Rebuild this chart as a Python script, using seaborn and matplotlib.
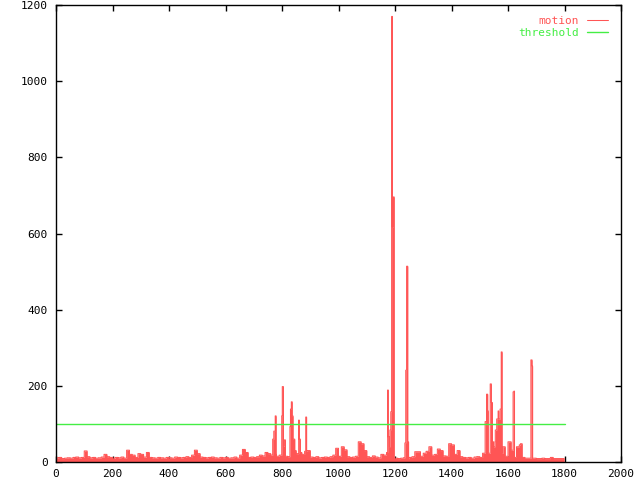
import numpy as np
import pandas as pd
import matplotlib
matplotlib.use("Agg")
import matplotlib.pyplot as plt
import seaborn as sns

# ---- data ----
# baseline motion, one value per 10-frame block (frames 0..1790)
base_motion = [
    11, 12, 9, 10, 11, 10, 12, 13, 11, 12,
    29, 14, 11, 12, 10, 11, 13, 20, 14, 12,
    10, 12, 11, 13, 10, 31, 20, 18, 12, 22,
    20, 13, 25, 12, 11, 10, 12, 11, 10, 12,
    11, 10, 13, 12, 11, 12, 14, 12, 18, 31,
    22, 13, 12, 11, 12, 13, 11, 10, 12, 11,
    12, 10, 11, 13, 10, 18, 33, 25, 12, 13,
    12, 14, 18, 16, 25, 22, 18, 20, 15, 18,
    12, 15, 14, 12, 28, 22, 25, 20, 28, 30,
    13, 12, 14, 11, 12, 13, 12, 14, 18, 36,
    15, 40, 32, 14, 12, 13, 15, 53, 48, 30,
    14, 12, 16, 13, 11, 20, 18, 25, 30, 10,
    10, 9, 10, 11, 9, 12, 14, 27, 27, 15,
    23, 28, 40, 18, 20, 34, 30, 16, 15, 48,
    45, 20, 30, 14, 12, 11, 12, 10, 13, 14,
    12, 23, 23, 23, 40, 53, 40, 30, 40, 15,
    53, 31, 12, 40, 48, 12, 10, 10, 10, 10,
    9, 9, 10, 9, 9, 12, 9, 9, 9, 9,
]
block_size = 10

# spikes: start frame, end frame (exclusive), value
spike_start = [767, 771, 776, 799, 801, 805, 808, 828, 830, 833, 836, 839, 845,
               859, 861, 884,
               1174, 1176, 1180, 1182, 1185, 1188, 1191, 1194,
               1235, 1238, 1241, 1245,
               1519, 1524, 1528, 1537, 1541, 1545, 1549, 1555, 1560, 1565, 1567,
               1572, 1576, 1579, 1582,
               1608, 1611, 1618, 1621, 1636, 1640, 1644, 1681, 1685]
spike_end = [771, 776, 779, 801, 805, 808, 812, 830, 833, 836, 839, 845, 850,
             861, 865, 887,
             1176, 1180, 1182, 1185, 1188, 1191, 1194, 1197,
             1238, 1241, 1245, 1248,
             1524, 1528, 1530, 1541, 1545, 1549, 1554, 1560, 1565, 1567, 1572,
             1576, 1579, 1582, 1585,
             1611, 1615, 1621, 1623, 1640, 1644, 1648, 1685, 1687]
spike_value = [60, 81, 121, 121, 198, 42, 58, 93, 139, 158, 121, 60, 30,
               110, 60, 118,
               189, 66, 40, 84, 132, 1170, 617, 696,
               50, 241, 514, 53,
               106, 178, 134, 205, 156, 53, 40, 84, 113, 134, 113,
               139, 289, 23, 40,
               53, 31, 184, 186, 40, 45, 48, 268, 252]

threshold = 100
n_frames = 1800

x_ticks = [0, 200, 400, 600, 800, 1000, 1200, 1400, 1600, 1800, 2000]
y_ticks = [0, 200, 400, 600, 800, 1000, 1200]

# ---- build per-frame series ----
frames = np.arange(n_frames)
motion = np.repeat(np.array(base_motion, dtype=float), block_size)[:n_frames]
for s, e, v in zip(spike_start, spike_end, spike_value):
    motion[s:e] = v
df = pd.DataFrame({"frame": frames, "motion": motion})
df_thr = pd.DataFrame({"frame": [0, n_frames], "threshold": [threshold, threshold]})

# ---- plot ----
sns.set_style("white")
plt.rcParams["font.family"] = ["DejaVu Sans Mono", "DejaVu Sans"]

RED = "#ff5555"
GREEN = "#44ee44"

fig = plt.figure(figsize=(6.4, 4.8), dpi=100)
ax = fig.add_axes([56 / 640, 18 / 480, 565 / 640, 457 / 480])

ax.fill_between(df["frame"], df["motion"], step="post", color=RED, lw=0,
                antialiased=False)
sns.lineplot(data=df, x="frame", y="motion", ax=ax, color=RED, lw=0.75,
             drawstyle="steps-post", estimator=None, label="motion")
sns.lineplot(data=df_thr, x="frame", y="threshold", ax=ax, color=GREEN, lw=1,
             estimator=None, label="threshold")

ax.set_xlim(0, 2000)
ax.set_ylim(0, 1200)
ax.set_xticks(x_ticks)
ax.set_yticks(y_ticks)
ax.set_xlabel("")
ax.set_ylabel("")

for sp in ax.spines.values():
    sp.set_visible(True)
    sp.set_color("black")
    sp.set_linewidth(1)

ax.tick_params(axis="both", which="major", direction="in", length=4.5, width=1,
               color="black", labelsize=8, labelcolor="black",
               top=True, right=True, bottom=True, left=True)
ax.tick_params(axis="x", pad=5)
ax.tick_params(axis="y", pad=6)

leg = ax.legend(loc="upper right", bbox_to_anchor=(0.985, 0.985), frameon=False,
                markerfirst=False, labelcolor="linecolor", fontsize=8,
                handlelength=1.9, handletextpad=0.75, labelspacing=0.15,
                borderaxespad=0)

fig.savefig("out.png", dpi=100, facecolor="white")
